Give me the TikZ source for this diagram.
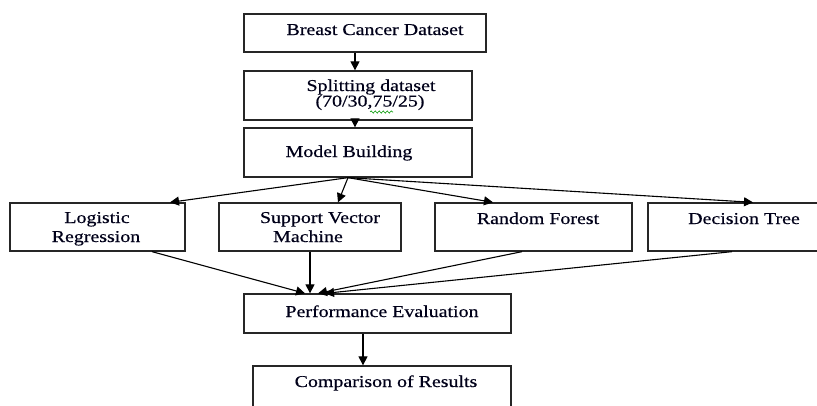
\documentclass[tikz,border=0pt]{standalone}
\usepackage{fontspec}
\setmainfont{Liberation Serif}[FakeStretch=1.2,FakeBold=0.5]
\usetikzlibrary{arrows.meta,decorations.pathmorphing}
\begin{document}
\begin{tikzpicture}[x=1pt,y=-1pt,
  box/.style={draw=black!85,line width=1.3pt,rectangle,inner sep=0pt,minimum width=#1},
  txt/.style={anchor=base,inner sep=0pt,font=\fontsize{16.6}{18}\selectfont,text=black!90!blue},
  conn/.style={draw=black,line width=1.1pt,-{Triangle[length=9pt,width=9pt]}}]
\useasboundingbox (0,0) rectangle (817,405);
% boxes
\node[box=242pt,minimum height=38pt] (bcd) at (365,33) {};
\node[box=228pt,minimum height=49pt] (split) at (358,95.5) {};
\node[box=228pt,minimum height=49pt] (mb) at (358,152.5) {};
\node[box=175pt,minimum height=48pt] (lr) at (97.5,227) {};
\node[box=182pt,minimum height=48pt] (svm) at (310,227) {};
\node[box=197pt,minimum height=48pt] (rf) at (533.5,227) {};
\node[box=178pt,minimum height=48pt] (dt) at (737,227) {};
\node[box=267pt,minimum height=39pt] (pe) at (377.5,313.5) {};
\node[box=258pt,minimum height=54pt] (cr) at (382,393) {};
% texts
\node[txt] (t1) at (375,35) {Breast Cancer Dataset};
\node[txt] (t2) at (371,91) {Splitting dataset};
\node[txt] (t3) at (370,106.5) {(70/30,75/25)};
\node[txt] (t4) at (349,157) {Model Building};
\node[txt] (t5) at (97,223) {Logistic};
\node[txt] (t6) at (96,242) {Regression};
\node[txt] (t7) at (320,223) {Support Vector};
\node[txt] (t8) at (308,242) {Machine};
\node[txt] (t9) at (538,224) {Random Forest};
\node[txt] (t10) at (744,224) {Decision Tree};
\node[txt] (t11) at (382,317) {Performance Evaluation};
\node[txt] (t12) at (386,387) {Comparison of Results};
% spell-check squiggle
\draw[green!60!black,line width=0.6pt,decorate,decoration={snake,amplitude=1.1pt,segment length=4pt}] (370,112) -- (393,112);
% connectors
\draw[conn] ([xshift=-10]bcd.south) -- ([xshift=-3]split.north);
\draw[conn] ([xshift=-3]split.south) -- ([xshift=-3]mb.north);
\draw[conn] ([xshift=-10]mb.south) -- ([xshift=72.5]lr.north);
\draw[conn] ([xshift=-10]mb.south) -- ([xshift=28]svm.north);
\draw[conn] ([xshift=-10]mb.south) -- ([xshift=-40.5]rf.north);
\draw[conn] ([xshift=-10]mb.south) -- ([xshift=16]dt.north);
\draw[conn] ([xshift=54.5]lr.south) -- ([xshift=-72.5]pe.north);
\draw[conn] (svm.south) -- ([xshift=-67.5]pe.north);
\draw[conn] ([xshift=-11.5]rf.south) -- ([xshift=-59.5]pe.north);
\draw[conn] ([xshift=-5]dt.south) -- ([xshift=-52.5]pe.north);
\draw[conn] ([xshift=-14.5]pe.south) -- ([xshift=-19]cr.north);
\end{tikzpicture}
\end{document}
